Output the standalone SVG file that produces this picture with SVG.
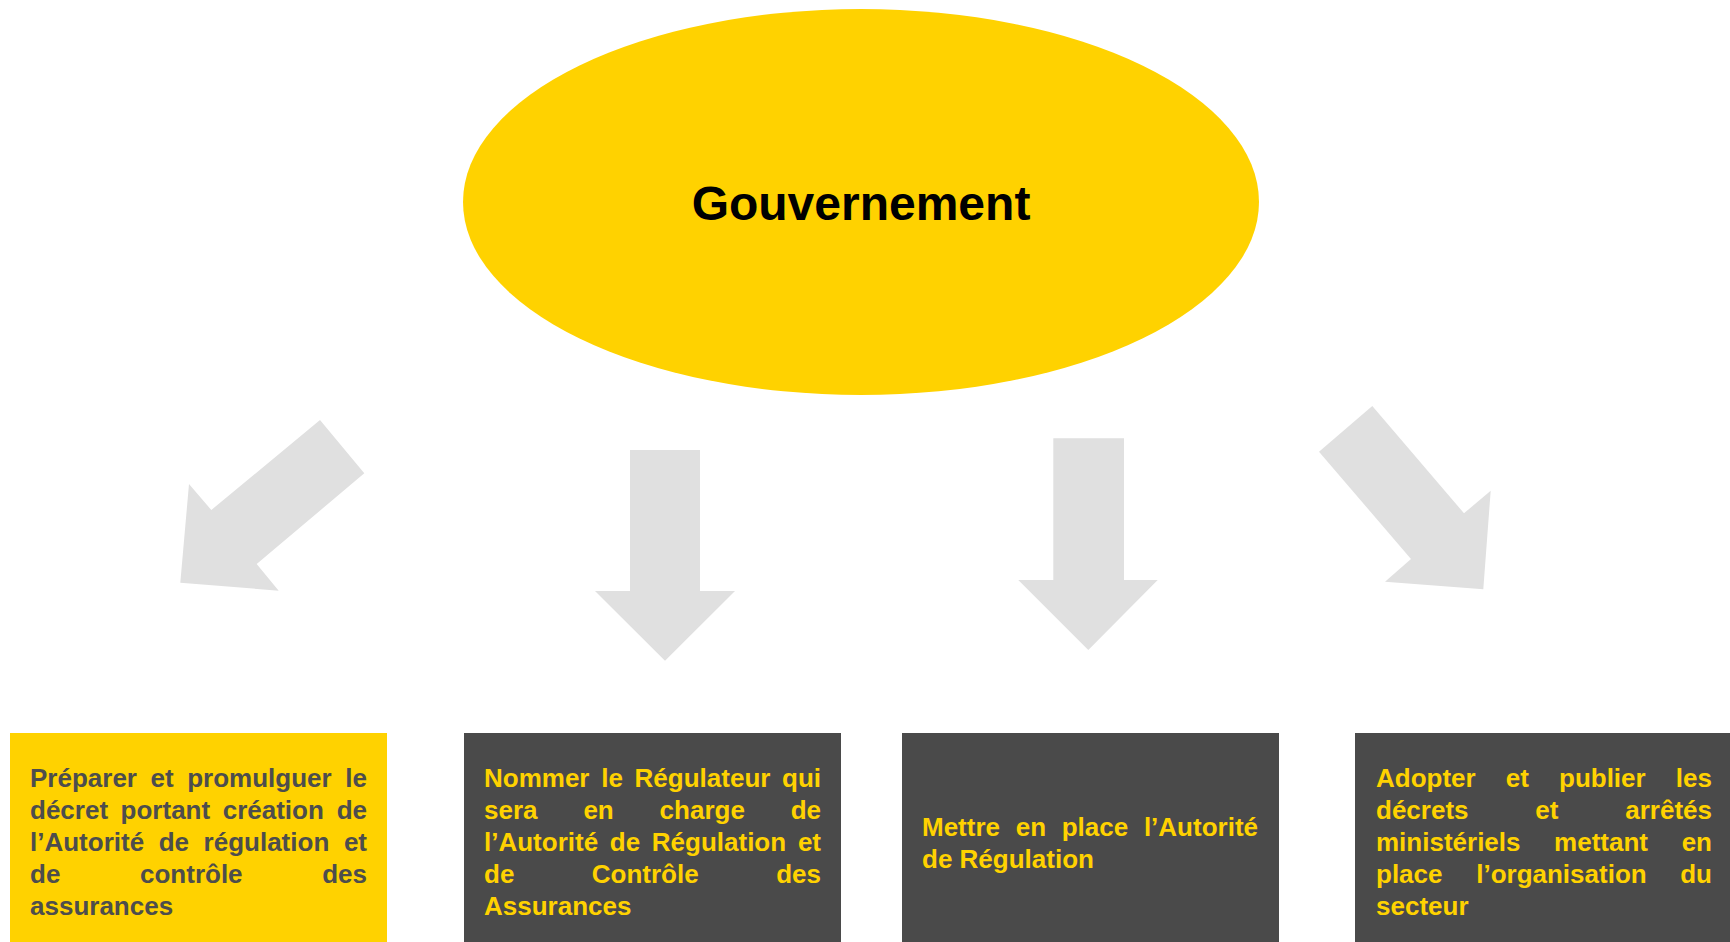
<svg xmlns="http://www.w3.org/2000/svg" width="1730" height="942" viewBox="0 0 1730 942">
<style>
.bg{fill:#ffffff}
.blk{fill:#E0E0E0}
.yel{fill:#FFD200}
.dark{fill:#4A4A4A}
.t{font-family:"Liberation Sans",Arial,sans-serif;font-weight:bold;font-size:26px}
.tg{fill:#4D4D4D}
.ty{fill:#FFD200}
.title{font-family:"Liberation Sans",Arial,sans-serif;font-weight:bold;font-size:48px;fill:#000000}
</style>
<rect class="bg" x="0" y="0" width="1730" height="942"/>
<g id="connectors">
<polygon class="blk" points="320,420 364.3,473.3 256.7,564 278.7,590.7 180.3,582.7 189,484 211.3,510"/>
<polygon class="blk" points="630,450 700,450 700,591 735,591 665,660.7 595,591 630,591"/>
<polygon class="blk" points="1053.3,438.3 1124,438.3 1124,580 1157.7,580 1088.3,650 1018.3,580 1053.3,580"/>
<polygon class="blk" points="1319,451.7 1372.3,406 1464,513.3 1490.7,490.7 1483.3,589.3 1385,581.7 1411,559"/>
</g>
<g id="gouvernement">
<ellipse class="yel" cx="861" cy="202" rx="398" ry="193"/>
<text class="title" x="861" y="220" text-anchor="middle">Gouvernement</text>
</g>
<g id="box1">
<rect class="yel" x="10" y="733" width="377" height="220"/>
<text class="t tg" y="787"><tspan x="30">Préparer</tspan><tspan x="150.5">et</tspan><tspan x="187.2">promulguer</tspan><tspan x="367" text-anchor="end">le</tspan></text>
<text class="t tg" y="819"><tspan x="30">décret</tspan><tspan x="120.6">portant</tspan><tspan x="222.7">création</tspan><tspan x="367" text-anchor="end">de</tspan></text>
<text class="t tg" y="851"><tspan x="30">l’Autorité</tspan><tspan x="158.7">de</tspan><tspan x="203.6">régulation</tspan><tspan x="367" text-anchor="end">et</tspan></text>
<text class="t tg" y="883"><tspan x="30">de</tspan><tspan x="140">contrôle</tspan><tspan x="367" text-anchor="end">des</tspan></text>
<text class="t tg" y="915" x="30">assurances</text>
</g>
<g id="box2">
<rect class="dark" x="464" y="733" width="377" height="220"/>
<text class="t ty" y="787"><tspan x="484">Nommer</tspan><tspan x="601.2">le</tspan><tspan x="634.6">Régulateur</tspan><tspan x="821" text-anchor="end">qui</tspan></text>
<text class="t ty" y="819"><tspan x="484">sera</tspan><tspan x="583.4">en</tspan><tspan x="659.6">charge</tspan><tspan x="821" text-anchor="end">de</tspan></text>
<text class="t ty" y="851"><tspan x="484">l’Autorité</tspan><tspan x="609.8">de</tspan><tspan x="651.8">Régulation</tspan><tspan x="821" text-anchor="end">et</tspan></text>
<text class="t ty" y="883"><tspan x="484">de</tspan><tspan x="591.8">Contrôle</tspan><tspan x="821" text-anchor="end">des</tspan></text>
<text class="t ty" y="915" x="484">Assurances</text>
</g>
<g id="box3">
<rect class="dark" x="902" y="733" width="377" height="220"/>
<text class="t ty" y="836"><tspan x="922">Mettre</tspan><tspan x="1015.7">en</tspan><tspan x="1061.7">place</tspan><tspan x="1258" text-anchor="end">l’Autorité</tspan></text>
<text class="t ty" y="868" x="922">de Régulation</text>
</g>
<g id="box4">
<rect class="dark" x="1355" y="733" width="380" height="220"/>
<text class="t ty" y="787"><tspan x="1376">Adopter</tspan><tspan x="1505.8">et</tspan><tspan x="1559">publier</tspan><tspan x="1712" text-anchor="end">les</tspan></text>
<text class="t ty" y="819"><tspan x="1376">décrets</tspan><tspan x="1535.3">et</tspan><tspan x="1712" text-anchor="end">arrêtés</tspan></text>
<text class="t ty" y="851"><tspan x="1376">ministériels</tspan><tspan x="1554.1">mettant</tspan><tspan x="1712" text-anchor="end">en</tspan></text>
<text class="t ty" y="883"><tspan x="1376">place</tspan><tspan x="1476.2">l’organisation</tspan><tspan x="1712" text-anchor="end">du</tspan></text>
<text class="t ty" y="915" x="1376">secteur</text>
</g>
</svg>
